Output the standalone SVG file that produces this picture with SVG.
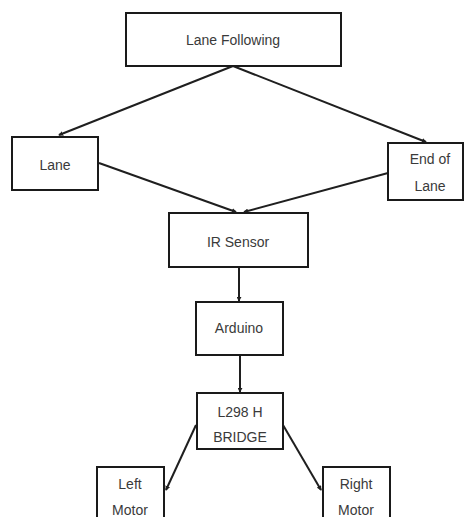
<svg xmlns="http://www.w3.org/2000/svg" width="466" height="517" viewBox="0 0 466 517">
  <style>
    .box { fill: #ffffff; stroke: #1a1a1a; stroke-width: 2; }
    .lbl { font-family: "Liberation Sans", Arial, sans-serif; font-size: 14px; fill: #3a3a3a; text-anchor: middle; dominant-baseline: central; }
    .edge { stroke: #1f1f1f; stroke-width: 2; fill: none; marker-end: url(#tip); }
  </style>
  <defs>
    <marker id="tip" viewBox="0 0 6 6" refX="5" refY="3" markerWidth="2.5" markerHeight="2.5" orient="auto">
      <path d="M0,0 L6,3 L0,6 Z" fill="#1f1f1f"/>
    </marker>
  </defs>
  <rect width="466" height="517" fill="#ffffff"/>

  <g id="connectors">
    <line class="edge" x1="233" y1="66" x2="59" y2="135"/>
    <line class="edge" x1="233" y1="66" x2="426" y2="142"/>
    <line class="edge" x1="99" y1="163" x2="236" y2="212"/>
    <line class="edge" x1="388" y1="173" x2="244" y2="212"/>
    <line class="edge" x1="239" y1="267" x2="239" y2="301"/>
    <line class="edge" x1="240" y1="355" x2="240" y2="392"/>
    <line class="edge" x1="196" y1="425" x2="166" y2="490"/>
    <line class="edge" x1="283" y1="425" x2="321" y2="490"/>
  </g>

  <g id="lane-following">
    <rect class="box" x="126" y="13" width="215" height="53"/>
    <text class="lbl" x="233" y="40">Lane Following</text>
  </g>

  <g id="lane">
    <rect class="box" x="12" y="137" width="86" height="53"/>
    <text class="lbl" x="55" y="165">Lane</text>
  </g>

  <g id="end-of-lane">
    <rect class="box" x="388" y="143" width="75" height="57"/>
    <text class="lbl" x="430" y="159">End of</text>
    <text class="lbl" x="430" y="186">Lane</text>
  </g>

  <g id="ir-sensor">
    <rect class="box" x="169" y="213" width="139" height="54"/>
    <text class="lbl" x="238" y="242">IR Sensor</text>
  </g>

  <g id="arduino">
    <rect class="box" x="196" y="302" width="87" height="53"/>
    <text class="lbl" x="239" y="328">Arduino</text>
  </g>

  <g id="l298-bridge">
    <rect class="box" x="197" y="393" width="86" height="56"/>
    <text class="lbl" x="240" y="412">L298 H</text>
    <text class="lbl" x="240" y="437">BRIDGE</text>
  </g>

  <g id="left-motor">
    <rect class="box" x="97" y="467" width="67" height="70"/>
    <text class="lbl" x="130" y="484">Left</text>
    <text class="lbl" x="130" y="510">Motor</text>
  </g>

  <g id="right-motor">
    <rect class="box" x="323" y="467" width="67" height="70"/>
    <text class="lbl" x="356" y="484">Right</text>
    <text class="lbl" x="356" y="510">Motor</text>
  </g>
</svg>
